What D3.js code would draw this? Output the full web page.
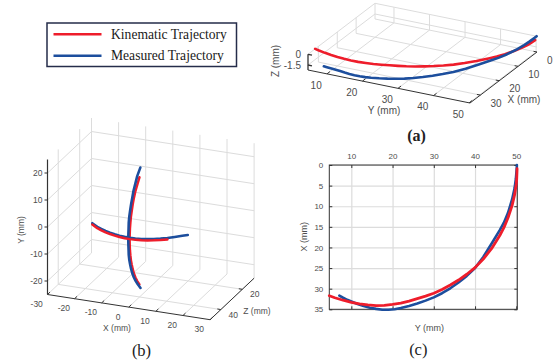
<!DOCTYPE html>
<html>
<head>
<meta charset="utf-8">
<script src="https://cdn.jsdelivr.net/npm/d3@7"></script>
<style>
  body { margin: 0; background: #fff; }
  svg { display: block; }
</style>
</head>
<body>
<svg id="chart" width="558" height="362"></svg>
<script>
// ---- trajectory shown in (a) and (c), mm ----
const kinY = [4.66, 6, 8, 10, 12, 14, 16, 18, 20, 22, 24, 26, 28, 30, 32, 34, 36, 38, 40, 42, 44, 46, 47, 48, 49, 49.6, 50, 50.1, 50.2];
const kinX = [31.7, 32.2, 32.8, 33.3, 33.7, 33.95, 34.1, 34.05, 33.8, 33.5, 33.0, 32.4, 31.8, 31.1, 30.2, 29.1, 27.9, 26.5, 24.9, 22.8, 20.3, 17.1, 15.2, 12.8, 9.8, 7.2, 4.6, 3.5, 0.9];
const kinZ = [0, 0, 0, 0, 0, 0, 0, 0, 0, 0, 0, 0, 0, 0, 0, 0, 0, 0, 0, 0, 0, -0.05, -0.1, -0.15, -0.22, -0.28, -0.32, -0.34, -0.35];

const meaY = [7.1, 8.0, 9.0, 10.0, 11.5, 13.0, 14.5, 16.0, 17.5, 19.0, 20.5, 22.0, 24.0, 26.0, 28.0, 30.0, 32.0, 34.0, 36.0, 38.0, 40.0, 42.0, 44.0, 46.0, 47.0, 48.0, 49.0, 49.6, 49.9, 50.1, 50.15];
const meaX = [31.7, 32.2, 32.7, 33.1, 33.7, 34.2, 34.6, 34.9, 35.1, 35.1, 35.0, 34.7, 34.2, 33.6, 32.9, 32.1, 31.1, 29.9, 28.5, 26.9, 25.0, 22.3, 19.1, 15.8, 14.0, 11.6, 8.3, 5.6, 3.4, 1.0, 0.0];
const meaZ = [-2.2, -2.1, -2.0, -1.92, -1.83, -1.77, -1.74, -1.72, -1.7, -1.7, -1.69, -1.68, -1.66, -1.63, -1.58, -1.52, -1.44, -1.34, -1.24, -1.12, -1.0, -0.88, -0.74, -0.58, -0.5, -0.4, -0.28, -0.18, -0.1, -0.03, 0.0];

// ---- cross trajectory shown in (b), mm ----
const bMeaVX = [-0.5, -0.5, -0.4, -0.4, -0.3, -0.3, -0.3, -0.3, -0.3, -0.2, -0.2, -0.2, -0.2, -0.2, -0.3, -0.3, -0.3, -0.3, -0.3, -0.3, -0.3, -0.3, -0.2];
const bMeaVY = [22.1, 20, 18, 16, 14, 12, 10, 8, 6, 4, 2, 0, -2, -4, -6, -8, -10, -12, -14, -16, -18, -20, -22.2];
const bMeaVZ = [38.0, 40.9, 42.9, 44.6, 46.0, 47.1, 48.0, 48.8, 49.3, 49.7, 49.9, 50.0, 49.9, 49.7, 49.3, 48.8, 48.0, 47.1, 46.0, 44.6, 42.9, 40.9, 38.6];

const bKinVX = [0.4, 0.4, 0.3, 0.3, 0.3, 0.3, 0.3, 0.3, 0.3, 0.3, 0.3, 0.3, 0.3, 0.3, 0.3, 0.3, 0.3, 0.3, 0.3, 0.3, 0.3];
const bKinVY = [19.8, 18, 16, 14, 12, 10, 8, 6, 4, 2, 0, -2, -4, -6, -8, -10, -12, -14, -16, -18, -20];
const bKinVZ = [41.1, 42.9, 44.6, 46.0, 47.1, 48.0, 48.8, 49.3, 49.7, 49.9, 50.0, 49.9, 49.7, 49.3, 48.8, 48.0, 47.1, 46.0, 44.6, 42.9, 40.9];

const bMeaHX = [-16.8, -14, -12, -10, -8, -6, -4, -2, 0, 2, 4, 6, 8, 10, 12, 14, 16, 17.5];
const bMeaHY = [0.3, 0.3, 0.3, 0.3, 0.3, 0.3, 0.3, 0.3, 0.3, 0.3, 0.3, 0.3, 0.3, 0.3, 0.3, 0.4, 0.4, 0.4];
const bMeaHZ = [41.6, 44.0, 45.3, 46.4, 47.3, 48.0, 48.6, 48.9, 49.0, 48.9, 48.5, 47.8, 46.9, 45.7, 44.3, 42.6, 40.6, 39.2];

const bKinHX = [-16.8, -14, -12, -10, -8, -6, -4, -2, 0, 2, 4, 6, 8, 10, 12];
const bKinHY = [-0.2, -0.2, -0.2, -0.2, -0.2, -0.2, -0.2, -0.2, -0.2, -0.2, -0.2, -0.2, -0.2, -0.2, -0.2];
const bKinHZ = [41.6, 44.0, 45.3, 46.4, 47.3, 48.0, 48.6, 48.9, 49.0, 48.9, 48.5, 47.8, 46.9, 45.7, 44.3];

// ticks
const aXTicks = [0, 10, 20, 30];
const aYTicks = [10, 20, 30, 40, 50];
const aZTicks = [0, -1.5];
const bXTicks = [-30, -20, -10, 0, 10, 20, 30];
const bYTicks = [-20, -10, 0, 10, 20];
const bZTicks = [20, 40];
const cYTicks = [10, 20, 30, 40, 50];
const cXTicks = [0, 5, 10, 15, 20, 25, 30, 35];

const seriesNames = ["Kinematic Trajectory", "Measured Trajectory"];

const red = "#ee1d2b", blue = "#1c4e9d";
const gridCol = "#dcdcdc", axisCol = "#333", tickCol = "#4d4d4d";
const sans = "'Liberation Sans', Arial, Helvetica, sans-serif";
const serif = "'Liberation Serif', 'Times New Roman', serif";

const svg = d3.select("#chart");

// orthographic 3D view: screen = o + sx*ex + sy*ey + sz*ez
function proj3(o, ex, ey, ez, sx, sy, sz) {
  return (x, y, z) => {
    const a = sx(x), b = sy(y), c = sz(z);
    return [o[0] + a * ex[0] + b * ey[0] + c * ez[0],
            o[1] + a * ex[1] + b * ey[1] + c * ez[1]];
  };
}

function seg(g, p1, p2, col, w) {
  g.append("line")
    .attr("x1", p1[0]).attr("y1", p1[1])
    .attr("x2", p2[0]).attr("y2", p2[1])
    .attr("stroke", col).attr("stroke-width", w);
}

function label(g, x, y, txt, size, anchor, rot) {
  const t = g.append("text")
    .attr("x", x).attr("y", y)
    .attr("text-anchor", anchor || "middle")
    .attr("dominant-baseline", "central")
    .attr("font-family", sans)
    .attr("font-size", size)
    .attr("fill", tickCol)
    .text(txt);
  if (rot) t.attr("transform", "rotate(" + rot + "," + x + "," + y + ")");
  return t;
}

const line = d3.line().curve(d3.curveLinear);

function drawPath(g, pts, col, w) {
  g.append("path")
    .attr("d", line(pts))
    .attr("fill", "none")
    .attr("stroke", col)
    .attr("stroke-width", w)
    .attr("stroke-linejoin", "round")
    .attr("stroke-linecap", "round");
}

// ================= (a) =================
{
  const g = svg.append("g");
  const xd = [0, 35.5], yd = [4.66, 50.25], zd = [-2.2, 0];
  const sx = d3.scaleLinear().domain(xd).range([0, 1]);
  const sy = d3.scaleLinear().domain(yd).range([0, 1]);
  const sz = d3.scaleLinear().domain(zd).range([0, 1]);
  const P = proj3([375, 19], [-67, 51], [162, 33], [0, -15.7], sx, sy, sz);
  const [x0, x1] = xd, [y0, y1] = yd, [z0, z1] = zd;

  // floor grid
  aXTicks.forEach(t => seg(g, P(t, y0, z0), P(t, y1, z0), gridCol, 1));
  aYTicks.forEach(t => seg(g, P(x0, t, z0), P(x1, t, z0), gridCol, 1));
  // back wall X = 0
  aYTicks.forEach(t => seg(g, P(x0, t, z0), P(x0, t, z1), gridCol, 1));
  aZTicks.forEach(t => seg(g, P(x0, y0, t), P(x0, y1, t), gridCol, 1));
  // side wall Y = min
  aXTicks.forEach(t => seg(g, P(t, y0, z0), P(t, y0, z1), gridCol, 1));
  aZTicks.forEach(t => seg(g, P(x0, y0, t), P(x1, y0, t), gridCol, 1));

  // axes
  seg(g, P(x1, y0, z0), P(x1, y0, z1), axisCol, 1.3);
  seg(g, P(x1, y0, z0), P(x1, y1, z0), axisCol, 1);
  seg(g, P(x0, y1, z0), P(x1, y1, z0), axisCol, 1);

  aYTicks.forEach(t => {
    const p = P(x1, t, z0);
    seg(g, p, [p[0] + 3, p[1] - 2.3], axisCol, 1);
    label(g, p[0] - 10.8, p[1] + 11.2, t, 10);
  });
  aXTicks.forEach(t => {
    const p = P(t, y1, z0);
    seg(g, p, [p[0] - 3.5, p[1] - 0.7], axisCol, 1);
    label(g, p[0] + 10, p[1] + 8, t, 10, "start");
  });
  aZTicks.forEach(t => {
    const p = P(x1, y0, t);
    seg(g, p, [p[0] + 4, p[1] + 0.8], axisCol, 1.3);
    label(g, p[0] - 7, p[1], t, 10, "end");
  });

  label(g, 275, 61, "Z (mm)", 10, "middle", -90);
  label(g, 384, 110, "Y (mm)", 10);
  label(g, 524, 99, "X (mm)", 10);

  drawPath(g, kinY.map((y, i) => P(kinX[i], y, kinZ[i])), red, 2.6);
  drawPath(g, meaY.map((y, i) => P(meaX[i], y, meaZ[i])), blue, 2.6);

  g.append("text").attr("x", 416.5).attr("y", 140.5)
    .attr("text-anchor", "middle").attr("font-family", serif)
    .attr("font-size", 16).attr("font-weight", "bold").attr("fill", "#222")
    .text("(a)");
}

// ================= (b) =================
{
  const g = svg.append("g");
  const xd = [-30, 30], yd = [-25, 25], zd = [9, 50];
  const sx = d3.scaleLinear().domain(xd).range([0, 1]);
  const sy = d3.scaleLinear().domain(yd).range([0, 1]);
  const sz = d3.scaleLinear().domain(zd).range([0, 1]);
  const P = proj3([91.5, 253], [162.6, 25.2], [0, -135], [-44, 41.5], sx, sy, sz);
  const [x0, x1] = xd, [y0, y1] = yd, [z0, z1] = zd;

  // floor Y = -25
  bXTicks.forEach(t => seg(g, P(t, y0, z0), P(t, y0, z1), gridCol, 1));
  bZTicks.forEach(t => seg(g, P(x0, y0, t), P(x1, y0, t), gridCol, 1));
  // wall X = -30
  bYTicks.forEach(t => seg(g, P(x0, t, z0), P(x0, t, z1), gridCol, 1));
  bZTicks.forEach(t => seg(g, P(x0, y0, t), P(x0, y1, t), gridCol, 1));
  // wall Z = min
  bXTicks.forEach(t => seg(g, P(t, y0, z0), P(t, y1, z0), gridCol, 1));
  bYTicks.forEach(t => seg(g, P(x0, t, z0), P(x1, t, z0), gridCol, 1));

  // axes
  seg(g, P(x0, y0, z1), P(x0, y1, z1), axisCol, 1.2);
  seg(g, P(x0, y0, z1), P(x1, y0, z1), axisCol, 1);
  seg(g, P(x1, y0, z1), P(x1, y0, z0), axisCol, 1);

  bXTicks.forEach(t => {
    const p = P(t, y0, z1);
    seg(g, p, [p[0] + 2.5, p[1] - 2.4], axisCol, 1);
    label(g, p[0] - 10.8, p[1] + 9.5, t, 8.5);
  });
  bYTicks.forEach(t => {
    const p = P(x0, t, z1);
    seg(g, p, [p[0] - 3, p[1]], axisCol, 1);
    label(g, p[0] - 5, p[1], t, 8.5, "end");
  });
  bZTicks.forEach(t => {
    const p = P(x1, y0, t);
    seg(g, p, [p[0] - 3.5, p[1] - 0.6], axisCol, 1);
    label(g, p[0] + 12.5, p[1] + 5, t, 8.5);
  });

  label(g, 21, 230, "Y (mm)", 8.5, "middle", -90);
  label(g, 117, 327.5, "X (mm)", 8.5);
  label(g, 257, 310.5, "Z (mm)", 8.5);

  drawPath(g, bKinVY.map((y, i) => P(bKinVX[i], y, bKinVZ[i])), red, 2.5);
  drawPath(g, bMeaVY.map((y, i) => P(bMeaVX[i], y, bMeaVZ[i])), blue, 2.6);
  drawPath(g, bMeaHX.map((x, i) => P(x, bMeaHY[i], bMeaHZ[i])), blue, 2.6);
  drawPath(g, bKinHX.map((x, i) => P(x, bKinHY[i], bKinHZ[i])), red, 2.5);

  g.append("text").attr("x", 141.5).attr("y", 355.5)
    .attr("text-anchor", "middle").attr("font-family", serif)
    .attr("font-size", 16.5).attr("fill", "#222")
    .text("(b)");
}

// ================= (c) =================
{
  const g = svg.append("g");
  const L = 329.3, R = 517.3, T = 165, B = 309.3;
  const x = d3.scaleLinear().domain([4.66, 50.25]).range([L, R]);
  const y = d3.scaleLinear().domain([0, 35]).range([T, B]);

  // grid
  g.append("g").attr("transform", `translate(0,${B})`)
    .call(d3.axisBottom(x).tickValues(cYTicks).tickSize(-(B - T)).tickFormat(""))
    .call(a => a.select(".domain").remove())
    .call(a => a.selectAll("line").attr("stroke", gridCol).attr("stroke-width", 1.2));
  g.append("g").attr("transform", `translate(${L},0)`)
    .call(d3.axisLeft(y).tickValues(cXTicks).tickSize(-(R - L)).tickFormat(""))
    .call(a => a.select(".domain").remove())
    .call(a => a.selectAll("line").attr("stroke", gridCol).attr("stroke-width", 1.2));

  // axes with inward ticks
  const styleAxis = a => {
    a.select(".domain").remove();
    a.selectAll("line").attr("stroke", axisCol);
    a.selectAll("text").attr("fill", tickCol).attr("font-family", sans).attr("font-size", 8);
  };
  g.append("g").attr("transform", `translate(0,${T})`)
    .call(d3.axisTop(x).tickValues(cYTicks).tickSize(-3).tickPadding(6)).call(styleAxis);
  g.append("g").attr("transform", `translate(0,${B})`)
    .call(d3.axisBottom(x).tickValues(cYTicks).tickSize(-3).tickFormat("")).call(styleAxis);
  g.append("g").attr("transform", `translate(${L},0)`)
    .call(d3.axisLeft(y).tickValues(cXTicks).tickSize(-3).tickPadding(6)).call(styleAxis);
  g.append("g").attr("transform", `translate(${R},0)`)
    .call(d3.axisRight(y).tickValues(cXTicks).tickSize(-3).tickFormat("")).call(styleAxis);

  g.append("rect").attr("x", L).attr("y", T).attr("width", R - L).attr("height", B - T)
    .attr("fill", "none").attr("stroke", axisCol).attr("stroke-width", 1);

  label(g, 304, 236.7, "X (mm)", 9, "middle", -90);
  label(g, 429.3, 327.7, "Y (mm)", 9);

  drawPath(g, meaY.map((v, i) => [x(v), y(meaX[i])]), blue, 2.6);
  drawPath(g, kinY.map((v, i) => [x(v), y(kinX[i])]), red, 2.8);

  g.append("text").attr("x", 418.3).attr("y", 355)
    .attr("text-anchor", "middle").attr("font-family", serif)
    .attr("font-size", 16.5).attr("fill", "#222")
    .text("(c)");
}

// ================= legend =================
{
  const g = svg.append("g");
  g.append("rect").attr("x", 47).attr("y", 23).attr("width", 189.5).attr("height", 43.5)
    .attr("fill", "#fff").attr("stroke", "#252c4a").attr("stroke-width", 1.5);
  const cols = [red, blue];
  seriesNames.forEach((name, i) => {
    const yy = 34.3 + i * 21.4;
    g.append("line").attr("x1", 53.5).attr("x2", 101.5).attr("y1", yy).attr("y2", yy)
      .attr("stroke", cols[i]).attr("stroke-width", 2.6);
    g.append("text").attr("x", 111).attr("y", yy + 4.2)
      .attr("font-family", serif).attr("font-size", 13.6).attr("fill", "#1a1a1a")
      .text(name);
  });
}
</script>
</body>
</html>
